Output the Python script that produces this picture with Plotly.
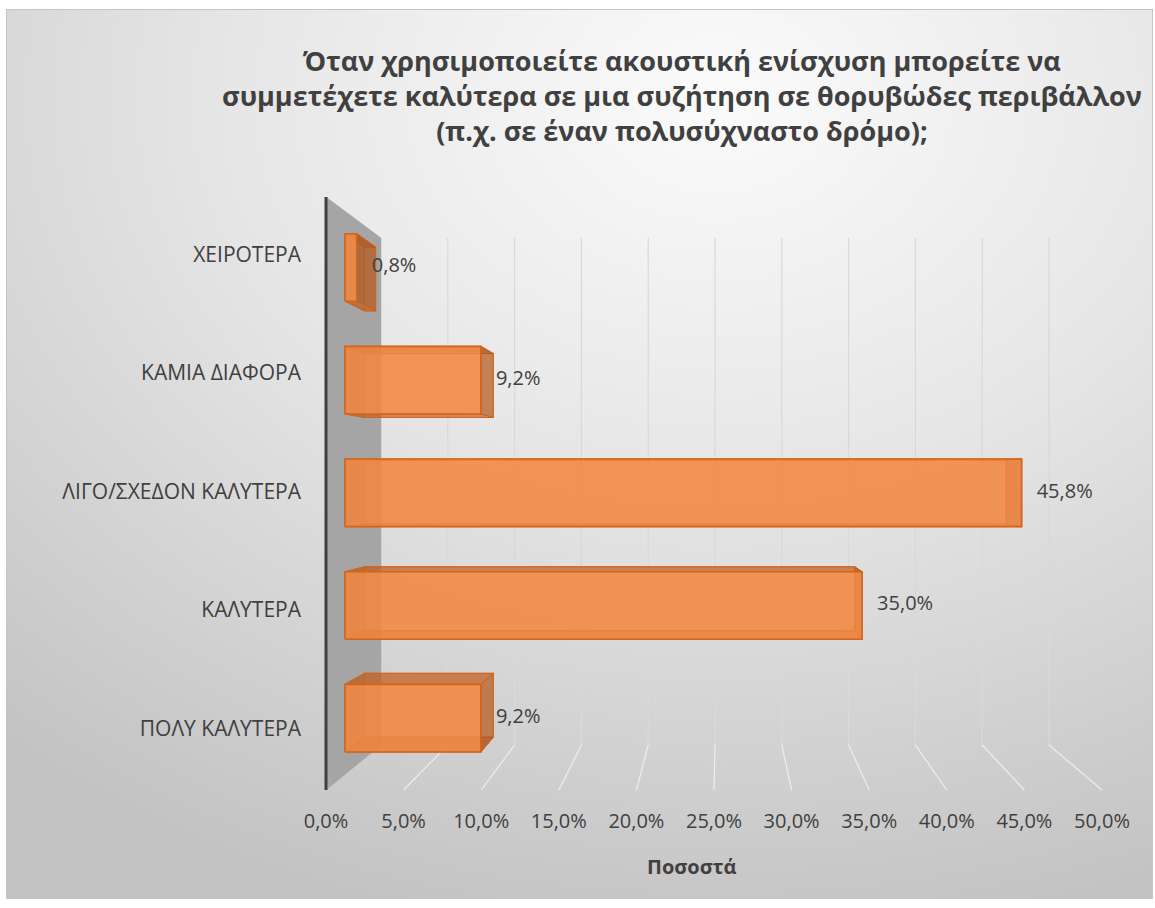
import base64
import plotly.graph_objects as go

# ---- data -------------------------------------------------------------
categories = ["ΠΟΛΥ ΚΑΛΥΤΕΡΑ", "ΚΑΛΥΤΕΡΑ", "ΛΙΓΟ/ΣΧΕΔΟΝ ΚΑΛΥΤΕΡΑ",
              "ΚΑΜΙΑ ΔΙΑΦΟΡΑ", "ΧΕΙΡΟΤΕΡΑ"]
percent = [9.2, 35.0, 45.8, 9.2, 0.8]
x_ticks = [0, 5, 10, 15, 20, 25, 30, 35, 40, 45, 50]

title = ("Όταν χρησιμοποιείτε ακουστική ενίσχυση μπορείτε να<br>"
         "συμμετέχετε καλύτερα σε μια συζήτηση σε θορυβώδες περιβάλλον<br>"
         "(π.χ. σε έναν πολυσύχναστο δρόμο);")
x_title = "Ποσοστά"

# ---- 3-D projection of the plot box -----------------------------------
# v: value in percent, u: 0..1 from floor to top, z: 0 front .. 1 back wall
W, H = 1155, 908
FRONT_X0, FRONT_DX = 326.0, 15.52
BACK_X0, BACK_DX = 381.0, 13.36
FRONT_Y0, FRONT_DY = 790.0, 593.0
BACK_Y0, BACK_DY = 745.0, 507.0


def proj(v, u, z):
    xf = FRONT_X0 + FRONT_DX * v
    xb = BACK_X0 + BACK_DX * v
    yf = FRONT_Y0 - FRONT_DY * u
    yb = BACK_Y0 - BACK_DY * u
    return xf + (xb - xf) * z, yf + (yb - yf) * z


def poly(points):
    xs = [p[0] for p in points] + [points[0][0]]
    ys = [p[1] for p in points] + [points[0][1]]
    return xs, ys


BAR_Z0, BAR_Z1 = 0.345, 0.70      # depth of the bar boxes
BAND = 1.0 / len(categories)
HALF = 0.06                         # half thickness of a bar in u units

TEXT = "#404040"
FONT = "Open Sans"
EDGE = "#d2641c"

fig = go.Figure()


def add_poly(points, fill, line_color, width=1.0):
    xs, ys = poly(points)
    fig.add_trace(go.Scatter(x=xs, y=ys, mode="lines", fill="toself",
                             fillcolor=fill,
                             line=dict(color=line_color, width=width),
                             hoverinfo="skip", showlegend=False))


def add_line(xs, ys, color, width):
    fig.add_trace(go.Scatter(x=xs, y=ys, mode="lines",
                             line=dict(color=color, width=width),
                             hoverinfo="skip", showlegend=False))


# side wall at 0 %
add_poly([proj(0, 0, 0), proj(0, 1, 0), proj(0, 1, 1), proj(0, 0, 1)],
         "#a5a5a5", "#a5a5a5", 0.5)

# gridlines: back wall verticals and floor diagonals
back_x, back_y, floor_x, floor_y = [], [], [], []
for t in x_ticks[1:]:
    for p in (proj(t, 1, 1), proj(t, 0, 1)):
        back_x.append(p[0]); back_y.append(p[1])
    back_x.append(None); back_y.append(None)
    for p in (proj(t, 0, 1), proj(t, 0, 0)):
        floor_x.append(p[0]); floor_y.append(p[1])
    floor_x.append(None); floor_y.append(None)
add_line(back_x, back_y, "#d9d9d9", 1.2)
add_line(floor_x, floor_y, "#eeeeee", 1.2)

# vertical axis line at the front of the wall
p0, p1 = proj(0, 0, 0), proj(0, 1, 0)
add_line([p0[0], p1[0]], [p0[1], p1[1]], "#404040", 3)

# bars as translucent boxes
for i, val in enumerate(percent):
    uc = BAND * (i + 0.5)
    u0, u1 = uc - HALF, uc + HALF
    z0, z1 = BAR_Z0, BAR_Z1
    P = proj

    # back face
    add_poly([P(0, u0, z1), P(0, u1, z1), P(val, u1, z1), P(val, u0, z1)],
             "rgba(237,125,49,0.30)", "rgba(210,100,28,0.6)")
    # bottom and top faces
    add_poly([P(0, u0, z0), P(val, u0, z0), P(val, u0, z1), P(0, u0, z1)],
             "rgba(185,85,20,0.55)", EDGE)
    add_poly([P(0, u1, z0), P(val, u1, z0), P(val, u1, z1), P(0, u1, z1)],
             "rgba(185,85,20,0.60)", EDGE)
    # end faces
    add_poly([P(0, u0, z0), P(0, u1, z0), P(0, u1, z1), P(0, u0, z1)],
             "rgba(200,95,25,0.30)", "rgba(210,100,28,0.6)")
    add_poly([P(val, u0, z0), P(val, u1, z0), P(val, u1, z1), P(val, u0, z1)],
             "rgba(170,82,25,0.60)", EDGE)
    # front face
    add_poly([P(0, u0, z0), P(0, u1, z0), P(val, u1, z0), P(val, u0, z0)],
             "rgba(241,135,65,0.82)", EDGE, 1.6)

# data labels next to the bar ends
lab_x, lab_y, lab_t = [], [], []
for i, val in enumerate(percent):
    x, y = proj(val, BAND * (i + 0.5), BAR_Z0)
    lab_x.append(x + 15)
    lab_y.append(y)
    lab_t.append(f"{val:.1f}".replace(".", ",") + "%")
fig.add_trace(go.Scatter(x=lab_x, y=lab_y, text=lab_t, mode="text",
                         textposition="middle right",
                         textfont=dict(family=FONT, size=20, color=TEXT),
                         hoverinfo="skip", showlegend=False, cliponaxis=False))

# category labels on the front plane
cat_x, cat_y = [], []
for i, name in enumerate(categories):
    x, y = proj(0, BAND * (i + 0.5), 0)
    cat_x.append(x - 25)
    cat_y.append(y)
fig.add_trace(go.Scatter(x=cat_x, y=cat_y, text=categories, mode="text",
                         textposition="middle left",
                         textfont=dict(family=FONT, size=21, color=TEXT),
                         hoverinfo="skip", showlegend=False, cliponaxis=False))

# value axis tick labels along the front floor edge
tk_x = [proj(t, 0, 0)[0] for t in x_ticks]
tk_y = [proj(t, 0, 0)[1] + 33 for t in x_ticks]
tk_t = [f"{t:.1f}".replace(".", ",") + "%" for t in x_ticks]
fig.add_trace(go.Scatter(x=tk_x, y=tk_y, text=tk_t, mode="text",
                         textposition="middle center",
                         textfont=dict(family=FONT, size=20, color=TEXT),
                         hoverinfo="skip", showlegend=False, cliponaxis=False))

# chart area background with a radial gradient and a thin border
svg = f"""<svg xmlns="http://www.w3.org/2000/svg" width="{W}" height="{H}" viewBox="0 0 {W} {H}">
<defs><radialGradient id="g" cx="0.62" cy="0.10" r="0.95">
<stop offset="0" stop-color="#fbfbfb"/>
<stop offset="0.45" stop-color="#e6e6e6"/>
<stop offset="1" stop-color="#c3c3c3"/>
</radialGradient></defs>
<rect x="6.5" y="9.5" width="1146" height="889" fill="url(#g)" stroke="#c4c4c4" stroke-width="1"/>
</svg>"""
bg_src = "data:image/svg+xml;base64," + base64.b64encode(svg.encode("utf-8")).decode("ascii")

fig.update_layout(
    width=W, height=H,
    margin=dict(l=0, r=0, t=0, b=0),
    paper_bgcolor="white",
    plot_bgcolor="rgba(0,0,0,0)",
    xaxis=dict(range=[0, W], visible=False, fixedrange=True),
    yaxis=dict(range=[H, 0], visible=False, fixedrange=True),
    images=[dict(source=bg_src, xref="paper", yref="paper", x=0, y=1,
                 sizex=1, sizey=1, sizing="stretch", xanchor="left",
                 yanchor="top", layer="below")],
    annotations=[
        dict(text="<b>" + title + "</b>", x=682, y=40, xref="x", yref="y",
             xanchor="center", yanchor="top", align="center", showarrow=False,
             font=dict(family=FONT, size=27, color=TEXT)),
        dict(text="<b>" + x_title + "</b>", x=proj(25, 0, 0)[0] - 22,
             y=proj(25, 0, 0)[1] + 76, xref="x", yref="y",
             xanchor="center", yanchor="middle", showarrow=False,
             font=dict(family=FONT, size=20, color=TEXT)),
    ],
    showlegend=False,
)

fig.write_html("out.html")
